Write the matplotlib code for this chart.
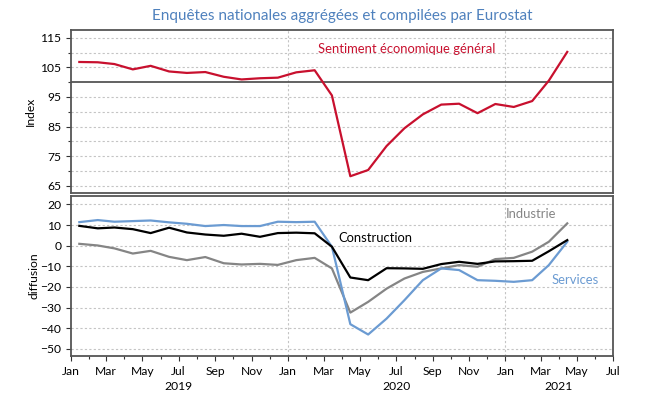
import numpy as np
import pandas as pd
import matplotlib
matplotlib.use("Agg")
import matplotlib.pyplot as plt
import matplotlib.dates as mdates
import matplotlib.transforms as mtransforms

plt.rcParams['font.family'] = ['Lato', 'DejaVu Sans']

# monthly data, Jan 2019 -> Apr 2021 (plotted mid-month)
months = pd.date_range('2019-01-01', periods=28, freq='MS') + pd.Timedelta(days=14)

sentiment = [106.8, 106.7, 106.1, 104.3, 105.5, 103.6, 103.1, 103.4, 101.8, 100.9,
             101.3, 101.5, 103.3, 104.0, 95.5, 68.2, 70.3, 78.4, 84.4, 89.1,
             92.4, 92.7, 89.5, 92.6, 91.6, 93.6, 100.5, 110.2]
services = [11.4, 12.4, 11.6, 11.9, 12.2, 11.3, 10.6, 9.5, 10.0, 9.5,
            9.5, 11.6, 11.4, 11.6, -0.5, -38.0, -43.0, -35.3, -26.4, -16.7,
            -11.0, -11.8, -16.7, -17.0, -17.5, -16.7, -9.4, 1.9]
construction = [9.6, 8.4, 8.8, 8.0, 6.1, 8.7, 6.4, 5.4, 4.8, 5.8,
                4.3, 6.1, 6.3, 6.0, -0.5, -15.4, -16.7, -10.9, -11.0, -11.2,
                -8.9, -7.8, -8.8, -7.6, -7.5, -7.3, -2.7, 2.7]
industrie = [0.9, 0.1, -1.3, -3.8, -2.5, -5.4, -7.0, -5.5, -8.5, -9.1,
             -8.8, -9.3, -7.0, -5.9, -11.0, -32.4, -27.2, -20.8, -15.9, -12.7,
             -11.0, -9.4, -10.2, -6.5, -5.9, -2.9, 1.9, 10.8]

top_ticks = [65, 75, 85, 95, 105, 115]
bot_ticks = [20, 10, 0, -10, -20, -30, -40, -50]
years = ['2019', '2020', '2021']
year_pos = ['2019-07-01', '2020-07-01', '2021-04-01']

RED = '#c8102e'
BLUE = '#6b9bd2'
GRAY = '#858585'
TITLE = '#4f81bd'
FRAME = '#555555'
GRID = '#c4c4c4'

fig = plt.figure(figsize=(6.52, 3.97), dpi=100)
ax1 = fig.add_axes([0.1089, 0.5151, 0.8313, 0.4093])
ax2 = fig.add_axes([0.1089, 0.1033, 0.8313, 0.4022], sharex=ax1)

xmin, xmax = pd.Timestamp('2019-01-01'), pd.Timestamp('2021-07-01')

for ax in (ax1, ax2):
    for s in ax.spines.values():
        s.set_color(FRAME)
        s.set_linewidth(1.3)
    ax.set_xlim(xmin, xmax)
    ax.tick_params(axis='both', labelsize=8.7, direction='out', length=3.5,
                   width=0.8, color='#333333')
    ax.tick_params(which='minor', length=2.5, width=0.8, color='#333333')
    for d in ['2020-01-01', '2021-01-01']:
        ax.axvline(pd.Timestamp(d), color=GRID, lw=0.8, ls=(0, (2, 2)), zorder=0)

# top panel
ax1.set_ylim(62.7, 117.6)
ax1.set_yticks(top_ticks)
ax1.set_yticks(np.arange(70, 116, 10), minor=True)
for v in np.arange(65, 116, 5):
    if v != 100:
        ax1.axhline(v, color=GRID, lw=0.8, ls=(0, (2, 2)), zorder=0)
ax1.axhline(100, color='#555555', lw=1.3, zorder=1)
ax1.plot(months, sentiment, color=RED, lw=1.6, zorder=3)
ax1.text(pd.Timestamp('2020-02-20'), 111.2, 'Sentiment économique général',
         color=RED, fontsize=9.4, va='center', ha='left')
ax1.set_ylabel('Index', fontsize=8.7)
ax1.yaxis.set_label_coords(-0.0646, 0.5)
ax1.tick_params(axis='x', which='both', labelbottom=False, length=0)
ax1.set_title('Enquêtes nationales aggrégées et compilées par Eurostat',
              color=TITLE, fontsize=11, pad=7)

# bottom panel
ax2.set_ylim(-53.4, 23.9)
ax2.set_yticks(bot_ticks)
for v in bot_ticks:
    ax2.axhline(v, color=GRID, lw=0.8, ls=(0, (2, 2)), zorder=0)
ax2.plot(months, industrie, color=GRAY, lw=1.6, zorder=3)
ax2.plot(months, services, color=BLUE, lw=1.6, zorder=3)
ax2.plot(months, construction, color='black', lw=1.6, zorder=4)
ax2.text(pd.Timestamp('2020-03-26'), 3.5, 'Construction', color='black',
         fontsize=9.4, va='center', ha='left')
ax2.text(pd.Timestamp('2021-01-01'), 15.3, 'Industrie', color=GRAY,
         fontsize=9.4, va='center', ha='left')
ax2.text(pd.Timestamp('2021-03-19'), -16.4, 'Services', color=BLUE,
         fontsize=9.4, va='center', ha='left')
ax2.set_ylabel('diffusion', fontsize=8.7)
ax2.yaxis.set_label_coords(-0.059, 0.5)

ax2.xaxis.set_major_locator(mdates.MonthLocator(bymonth=[1, 3, 5, 7, 9, 11]))
ax2.xaxis.set_minor_locator(mdates.MonthLocator())
ax2.xaxis.set_major_formatter(mdates.DateFormatter('%b'))
ax2.tick_params(axis='x', pad=4)

trans = mtransforms.blended_transform_factory(ax2.transData, ax2.transAxes)
for lab, pos in zip(years, year_pos):
    ax2.text(pd.Timestamp(pos), -0.19, lab, transform=trans, ha='center',
             va='center', fontsize=8.7)

fig.savefig('out.png', dpi=100)
